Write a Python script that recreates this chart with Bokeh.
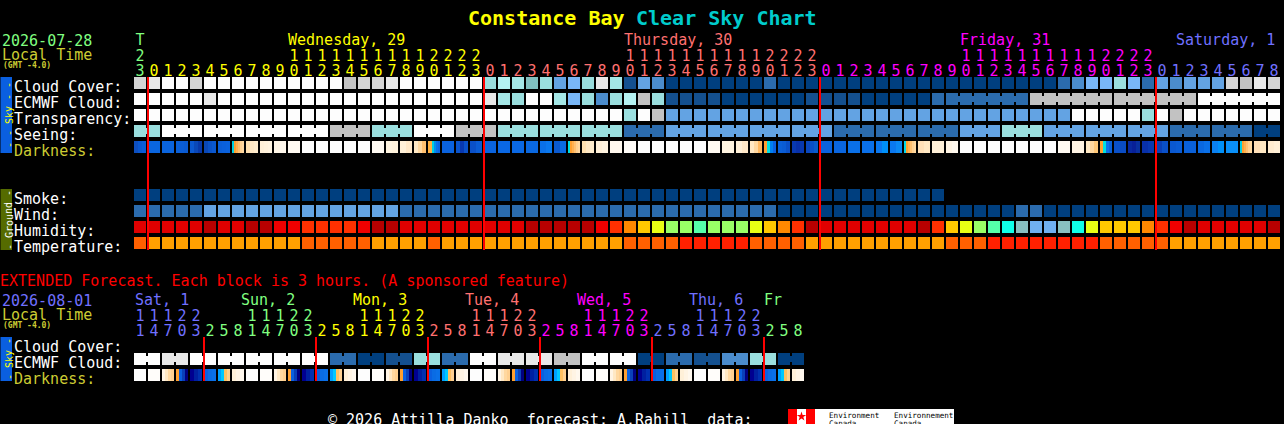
from bokeh.plotting import figure
from bokeh.models import ColumnDataSource, Range1d
from bokeh.core.properties import value
from bokeh.embed import file_html
from bokeh.resources import INLINE

# ---- palette of the forecast blocks
PAL = dict(
    W="#fdfdfd", L="#e8e8e8", M="#d4d4d4", G="#c2c2c2",
    a="#9adede", b="#b4f2f2", c="#80bfbf", d="#a4e6e6",
    s="#79b7f7", t="#63a3e3", u="#4b8ccc", v="#2b6bad", x="#14508f", y="#003f7f",
)
HUM = dict(
    D="#b80000", E="#e00000", F="#f00000", R="#ff3000", O="#ff8800", Y="#ffc800",
    Z="#e8ff14", g="#99ff66", h="#55ffaa", i="#10ffe8", j="#88c0c0", k="#70b0f0",
)
TMP = dict(A="#ffa000", B="#ff6000", C="#ff2000")

# ---- hourly forecast, 82 blocks
hours = [23] + list(range(24)) * 3 + list(range(9))
cloud_cover = "MLWWM" + "W"*10 + "GMMLWW" + "WWWW" + "abdcatsaLdxtu" + "y"*7 + "v" + "y"*20 + "vussasvtuttt" + "MGLM"
ecmwf_cloud = "W"*5 + "L" + "W"*19 + "LdaWWdsauabGa" + "x"*4 + "y"*6 + "x"*4 + "y"*5 + "v"*7 + "G"*12 + "W"*6
ecmwf_groups = [(58, 6), (64, 6), (70, 6), (76, 6)]
transparency = "W"*35 + "aWG" + "t"*29 + "W"*5 + "aWGWWWWWWW"
seeing_blocks = [2] + [3]*26 + [2]
seeing_codes = ["a", "W", "W", "W", "W", "G", "a", "W", "G", "a", "a", "a", "v", "t", "t", "t", "t",
                "v", "v", "v", "t", "a", "t", "t", "t", "v", "v", "y"]
darkness = [
    ["#0d4fc0", "#0a58d0", "#0a5cd8"], ["#0a66e0"], ["#0a64de"], ["#0a60d8", "#0a5cd4", "#0a5ad0"],
    ["#0a58d0", "#0a48b8", "#0838a8"], ["#0a48b8", "#0a52c8", "#0a58d0"], ["#0a5ed8", "#0a60dc", "#0a62de"],
    ["#00d0e0", "#ffa030", "#ffb050", "#ffc070", "#ffd090", "#ffd8a0"],
    ["#ffe0b0", "#ffe8c4", "#ffeccc"], ["#fff0d8", "#fff2dc", "#fff4e0"], ["#fff6e6", "#fff8ec"], ["#fffaf2"],
    ["#fdfdfd"], ["#fdfdfd"], ["#fdfdfd"], ["#fdfdfd"], ["#fdfdfd"], ["#fffaf2"], ["#fff4e0", "#fff2dc"],
    ["#fff0d8", "#ffe8c8"], ["#ffe8c4", "#ffd8a0", "#ffc070"],
    ["#ffb040", "#ffb040", "#00d0e0", "#0090f0", "#0a70e8", "#0a66e0"],
    ["#0a62de"], ["#0a54cc", "#0838b0", "#0a50c8"], ["#0a50c8", "#0a5cd4"], ["#0a64e0"], ["#0a68e4"], ["#0a68e4"],
    ["#0a68e0"], ["#0a70e8", "#0a78ee"], ["#0a5ad0", "#0a6ae0"],
    ["#00e0e0", "#ffa030", "#ffb050", "#ffc070", "#ffd090", "#ffd8a0"],
    ["#ffe0b0", "#ffe8c4", "#ffeccc"], ["#fff0d8", "#fff4e0"], ["#fff8ee"],
    ["#fffcf8"], ["#fdfdfd"], ["#fdfdfd"], ["#fdfdfd"], ["#fdfdfd"], ["#fdfdfd"],
    ["#fffaf2"], ["#fff4e0"], ["#fff0d8", "#ffe8c8"], ["#ffe8c4", "#ffd8a0", "#ffb860"],
    ["#ffa030", "#00e0e0", "#0080f0", "#0a60e0"], ["#0a60d8", "#0a5cd4", "#0a50c8"],
    ["#0838b0", "#0830a8", "#0838b0"], ["#0a48c0", "#0a50c8", "#0a5ccc"], ["#0a62de"], ["#0a66e0"], ["#0a70e8"],
    ["#0a70ea"], ["#0a78f0", "#0090f8"], ["#0a78f0", "#0a88f4"],
    ["#00d8e8", "#ffa030", "#ffb050", "#ffc070", "#ffd090", "#ffd8a0"], ["#ffe0b8", "#ffe8c4"], ["#fff0d8"],
    ["#fff4e4", "#fff8ee"], ["#fdfdfd"], ["#fdfdfd"], ["#fdfdfd"], ["#fdfdfd"], ["#fdfdfd"], ["#fdfdfd"], ["#fdfdfd"],
    ["#fffaf2"], ["#fff4e4"], ["#ffe8c4", "#ffd8a0", "#ffc878"],
    ["#ffa030", "#00e0e0", "#0a70e8", "#0a60d8"], ["#0a50c8", "#0a4cc4"], ["#0828a0", "#082098", "#0830a0"],
    ["#0830a8", "#0838b0"], ["#0a40b8", "#0a50c8"], ["#0a58d0", "#0a5cd4"], ["#0a60d8"], ["#0a68e0", "#0a70e8"],
    ["#0a80f0", "#0090f8"], ["#0a90f8"],
    ["#00d0e8", "#ffa030", "#ffb050", "#ffc070", "#ffd090", "#ffd8a0"], ["#ffe0b8", "#ffe8c4"], ["#ffecd0", "#fff0d8"],
]
smoke = "y" * 58
wind = "v"*5 + "t"*14 + "v"*27 + "y"*17 + "vv" + "y"*17
humidity = "EEEEEDEEDDFFRRRRFDDEE" + "EEEEEEEDDDDDFROYZgghgggZYORD" + "EEEEEEEDRYZghijkkjiZYYYORFDEEEEED"
temperature = "B" + "A"*11 + "B"*5 + "A"*4 + "B" + "A"*13 + "B"*4 + "C"*5 + "B"*4 + "A"*10 + "B"*3 + "C"*8 + "B"*5 + "A"*8
assert all(len(s) == 82 for s in (cloud_cover, ecmwf_cloud, transparency, humidity, temperature, wind, darkness, hours))

# ---- extended forecast, 48 blocks of 3 hours
ext_hours = [11, 14, 17, 20, 23] + [2, 5, 8, 11, 14, 17, 20, 23] * 5 + [2, 5, 8]
ext_ecmwf = "WLWWWWWvyxavWLLGWWyvxuay"
ext_day = [
    ["#fdfdfd"], ["#fffdfa"], ["#fff4e4", "#ffe8c4", "#ffd8a0", "#ffd090"],
    ["#ffa030", "#0a60e0", "#0a40b8", "#000080"], ["#000090", "#0020a0", "#0030b0"],
    ["#0a60e0", "#0a6ce4", "#0a70e8"], ["#00a0ff", "#00c8ff", "#ffc060", "#ffd090"], ["#fff0d8", "#fff4e4", "#fff8ee"],
]
ext_dark = (ext_day * 6)

# ---- texts
day_labels = ["Wednesday, 29", "Thursday, 30", "Friday, 31", "Saturday, 1"]
ext_days = ["Sat, 1", "Sun, 2", "Mon, 3", "Tue, 4", "Wed, 5", "Thu, 6", "Fr"]
C_GREEN, C_YEL, C_SALM, C_MAG, C_PERI = "#80ff80", "#ffff00", "#ff7070", "#ff00ff", "#7070ff"
C_LABEL = "#cccc33"

# ---- layout (picture pixels)
LEFT, PITCH, CELL = 134, 14, 12
def X(px):
    return (px - LEFT) / PITCH
ROW_H = 16
def Y(px):
    return (px - 77) / ROW_H

W, H = 1284, 424
# half a pixel of shift cancels the translate the svg context applies
p = figure(width=W, height=H, x_range=Range1d(X(0.5), X(W + 0.5)), y_range=Range1d(Y(H + 0.5), Y(0.5)),
           output_backend="svg", toolbar_location=None, min_border=0,
           background_fill_color="black", border_fill_color="black", outline_line_color=None)
p.axis.visible = False
p.grid.visible = False
p.styles = {"position": "fixed", "left": "0px", "top": "0px", "background-color": "black"}

# collect block rectangles
L, R, T, B, COL = [], [], [], [], []
def add(px0, px1, py0, py1, col):
    L.append(X(px0)); R.append(X(px1)); T.append(Y(py0)); B.append(Y(py1)); COL.append(col)

def row(codes, top, pal):
    for i, k in enumerate(codes):
        x0 = LEFT + PITCH * i
        add(x0, x0 + CELL, top, top + CELL, pal[k])

def bridges(start, n, col, top):
    for j in range(n - 1):
        x0 = LEFT + PITCH * (start + j) + CELL
        add(x0, x0 + PITCH - CELL, top + 3, top + CELL - 3, col)

def strips(cells, top):
    for i, stops in enumerate(cells):
        x0 = LEFT + PITCH * i
        w = CELL / len(stops)
        for j, col in enumerate(stops):
            add(x0 + j * w, x0 + CELL, top, top + CELL, col)

row(cloud_cover, 77, PAL)
row(ecmwf_cloud, 93, PAL)
for st, n in ecmwf_groups:
    bridges(st, n, PAL[ecmwf_cloud[st]], 93)
row(transparency, 109, PAL)
st = 0
for n, k in zip(seeing_blocks, seeing_codes):
    for j in range(n):
        x0 = LEFT + PITCH * (st + j)
        add(x0, x0 + CELL, 125, 137, PAL[k])
    bridges(st, n, PAL[k], 125)
    st += n
strips(darkness, 141)
row(smoke, 189, PAL)
row(wind, 205, PAL)
row(humidity, 221, HUM)
row(temperature, 237, TMP)
for n, k in enumerate(ext_ecmwf):
    i = 2 * n
    for j in (0, 1):
        x0 = LEFT + PITCH * (i + j)
        add(x0, x0 + CELL, 353, 365, PAL[k])
    bridges(i, 2, PAL[k], 353)
strips(ext_dark, 369)

# side bars and logo ground
add(0, 12, 77, 153, "#0a5fe0")
add(0, 12, 189, 250, "#556b00")
add(0, 12, 337, 381, "#0a5fe0")
add(788, 954, 409, 424, "#ffffff")
add(788, 797, 409, 424, "#ff0000")
add(806, 815, 409, 424, "#ff0000")

p.quad(left="l", right="r", top="t", bottom="b", fill_color="c", line_color=None,
       source=ColumnDataSource(dict(l=L, r=R, t=T, b=B, c=COL)))
p.scatter([X(801.5)], [Y(416.5)], marker="star", size=10, fill_color="#ff0000", line_color=None)

# red midnight lines
mid = [i for i, h in enumerate(hours) if h == 0]
ext_mid = [i for i, h in enumerate(ext_hours) if h == 2]
p.segment(x0=mid, x1=mid, y0=[Y(77)] * len(mid), y1=[Y(250)] * len(mid), line_color="#ff0000", line_width=2)
p.segment(x0=ext_mid, x1=ext_mid, y0=[Y(337)] * len(ext_mid), y1=[Y(381)] * len(ext_mid), line_color="#ff0000", line_width=2)

# texts
FONT = "DejaVu Sans Mono"
def texts(rows, size, bold=False, align="left", angle=0.0):
    src = ColumnDataSource(dict(x=[X(r[0]) for r in rows], y=[Y(r[1]) for r in rows],
                                s=[r[2] for r in rows], c=[r[3] for r in rows]))
    p.text(x="x", y="y", text="s", text_color="c", source=src, text_font=value(FONT),
           text_font_size=value(size), text_font_style="bold" if bold else "normal",
           text_align=align, text_baseline="alphabetic", angle=angle)

# title
texts([(468, 18, "Constance Bay", C_YEL), (636, 18, "Clear Sky Chart", "#00cccc")], "20px", bold=True)

NB = "\u00a0"
big = [
    (2, 40, "2026-07-28", C_GREEN), (2, 55, "Local Time", C_LABEL),
    (14, 87, "Cloud Cover:", "#ffffff"), (14, 103, "ECMWF Cloud:", "#ffffff"),
    (14, 119, "Transparency:", "#ffffff"), (14, 135, "Seeing:", "#ffffff"), (14, 151, "Darkness:", C_LABEL),
    (14, 199, "Smoke:", "#ffffff"), (14, 215, "Wind:", "#ffffff"),
    (14, 231, "Humidity:", "#ffffff"), (14, 247, "Temperature:", "#ffffff"),
    (0, 281, "EXTENDED Forecast. Each block is 3 hours. (A sponsored feature)", "#ff0000"),
    (2, 300, "2026-08-01", C_PERI), (2, 315, "Local Time", C_LABEL),
    (14, 347, "Cloud Cover:", "#ffffff"), (14, 363, "ECMWF Cloud:", "#ffffff"), (14, 379, "Darkness:", C_LABEL),
    (328, 420, f"\u00a9 2026 Attilla Danko{NB}{NB}forecast: A.Rahill{NB}{NB}data:", "#ffffff"),
    (288, 40, day_labels[0], C_YEL), (624, 40, day_labels[1], C_SALM),
    (960, 40, day_labels[2], C_MAG), (1176, 40, day_labels[3], C_PERI),
]
for px, s, c in zip([135, 241, 353, 465, 577, 689, 764], ext_days,
                    [C_PERI, C_GREEN, C_YEL, C_SALM, C_MAG, C_PERI, C_GREEN]):
    big.append((px, 300, s, c))
texts(big, "15px")

# hour digits
hour_cols = [C_GREEN] + [C_YEL] * 24 + [C_SALM] * 24 + [C_MAG] * 24 + [C_PERI] * 9
dig = [(140, 40, "T", C_GREEN)]
for i, (h, c) in enumerate(zip(hours, hour_cols)):
    cx = LEFT + PITCH * i + 6
    if h >= 10:
        dig.append((cx, 55, str(h // 10), c))
    dig.append((cx, 70, str(h % 10), c))
ext_cols = [C_PERI] * 5 + [C_GREEN] * 8 + [C_YEL] * 8 + [C_SALM] * 8 + [C_MAG] * 8 + [C_PERI] * 8 + [C_GREEN] * 3
for i, (h, c) in enumerate(zip(ext_hours, ext_cols)):
    cx = LEFT + PITCH * i + 6
    if h >= 10:
        dig.append((cx, 315, str(h // 10), c))
    dig.append((cx, 330, str(h % 10), c))
texts(dig, "15px", align="center")

texts([(3, 65, "(GMT -4.0)", C_LABEL), (3, 325, "(GMT -4.0)", C_LABEL)], "8px", bold=True)

# rotated side texts
texts([(9, 115, "- - Sky - -", "#ffff00"), (9, 359, "- Sky -", "#ffff00")], "10px", align="center", angle=1.5708)
texts([(9, 220, "- Ground -", "#ffffff")], "10px", align="center", angle=1.5708)

# logo words
texts([(829, 415.5, "Environment", "#000000"), (829, 423, "Canada", "#000000"),
       (894, 415.5, "Environnement", "#000000"), (894, 423, "Canada", "#000000")], "7.6px")

open("out.html", "w").write(file_html(p, INLINE))
